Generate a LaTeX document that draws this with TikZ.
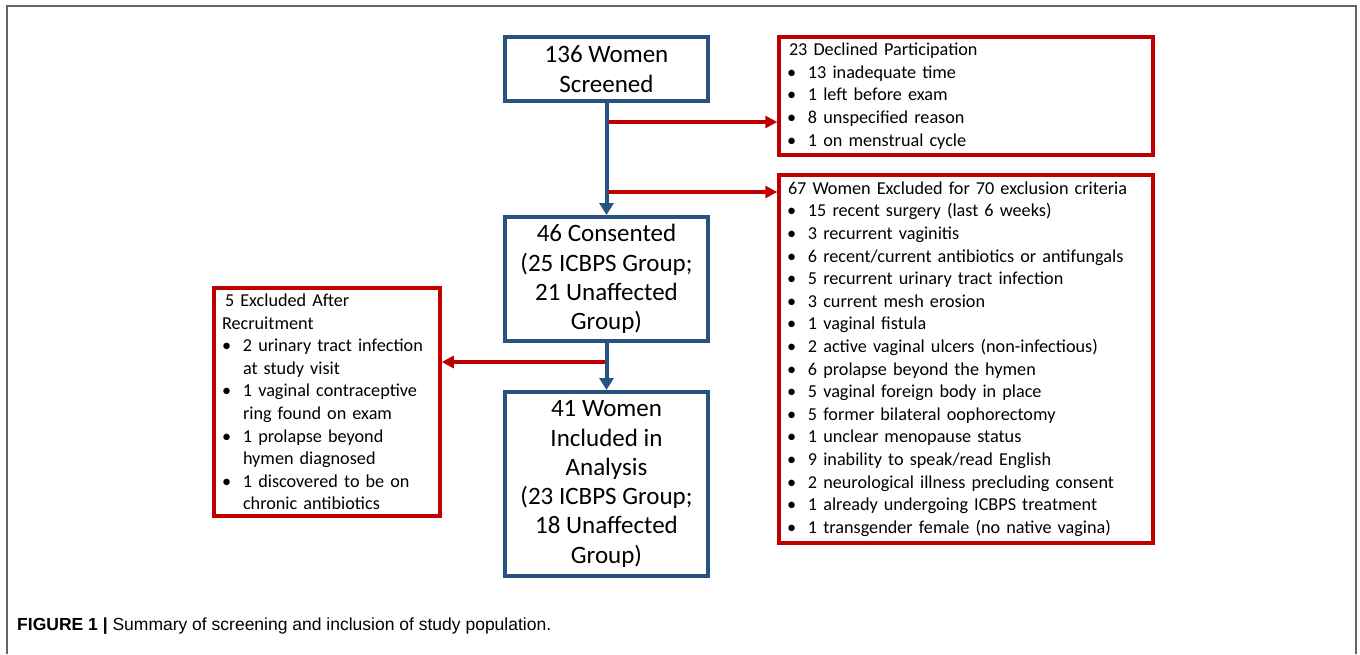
\documentclass[tikz,border=0pt]{standalone}
\usepackage{fontspec}
\setmainfont{Carlito}
\newfontfamily\capfont{Liberation Sans}
\usepackage{tikz}
\tikzset{>=latex}
\usetikzlibrary{shapes,arrows,arrows.meta}
\usetikzlibrary{calc}
\definecolor{boxblue}{RGB}{40,82,128}
\definecolor{boxred}{RGB}{192,0,0}
\definecolor{framegray}{RGB}{100,100,100}
\newcommand{\bitem}[1]{\makebox[21pt][l]{\textbullet}#1}
\newcommand{\bcont}[1]{\hspace*{21pt}#1}

\begin{document}
\begin{tikzpicture}[x=1pt,y=-1pt,line join=miter,
	bluebox/.style={draw=boxblue,line width=4pt,fill=white,align=center,inner sep=0pt,
		font=\fontsize{25}{29.3}\selectfont},
	redbox/.style={draw=boxred,line width=3.5pt,fill=white,align=left,inner xsep=8pt,inner ysep=0pt,
		font=\fontsize{18.2}{22.6}\selectfont},
	bluearrow/.style={-{Triangle[length=12pt,width=14pt]},draw=boxblue,line width=4pt},
	redarrow/.style={-{Triangle[length=12pt,width=12pt]},draw=boxred,line width=3.5pt}]
		\useasboundingbox (0,0) rectangle (1360,654);
		\fill[white] (0,0) rectangle (1360,654);
		\draw[framegray,line width=2pt] (7,654) -- (7,6) -- (1356,6) -- (1356,654);
		% main column
		\node[bluebox,minimum width=203pt,minimum height=64pt] (scr) at (606.5,69) {136 Women\\Screened};
		\node[bluebox,minimum width=203pt,minimum height=124pt] (cons) at (606.5,279) {46 Consented\\(25 ICBPS Group;\\21 Unaffected\\Group)};
		\node[bluebox,minimum width=203pt,minimum height=184pt] (incl) at (606.5,484) {41 Women\\Included in\\Analysis\\(23 ICBPS Group;\\18 Unaffected\\Group)};
		% side boxes
		\node[redbox,text width=358pt,minimum height=118pt] (dec) at (966,96) {\hspace*{2pt}23 Declined Participation\\
			\bitem{13 inadequate time}\\
			\bitem{1 left before exam}\\
			\bitem{8 unspecified reason}\\
			\bitem{1 on menstrual cycle}};
		\node[redbox,text width=358pt,minimum height=368pt] (excl) at (966,359) {\hspace*{1pt}67 Women Excluded for 70 exclusion criteria\\
			\bitem{15 recent surgery (last 6 weeks)}\\
			\bitem{3 recurrent vaginitis}\\
			\bitem{6 recent/current antibiotics or antifungals}\\
			\bitem{5 recurrent urinary tract infection}\\
			\bitem{3 current mesh erosion}\\
			\bitem{1 vaginal fistula}\\
			\bitem{2 active vaginal ulcers (non-infectious)}\\
			\bitem{6 prolapse beyond the hymen}\\
			\bitem{5 vaginal foreign body in place}\\
			\bitem{5 former bilateral oophorectomy}\\
			\bitem{1 unclear menopause status}\\
			\bitem{9 inability to speak/read English}\\
			\bitem{2 neurological illness precluding consent}\\
			\bitem{1 already undergoing ICBPS treatment}\\
			\bitem{1 transgender female (no native vagina)}};
		\node[redbox,text width=210pt,minimum height=228pt] (rec) at (327,402) {\hspace*{3pt}5 Excluded After\\
			Recruitment\\
			\bitem{2 urinary tract infection}\\
			\bcont{at study visit}\\
			\bitem{1 vaginal contraceptive}\\
			\bcont{ring found on exam}\\
			\bitem{1 prolapse beyond}\\
			\bcont{hymen diagnosed}\\
			\bitem{1 discovered to be on}\\
			\bcont{chronic antibiotics}};
		% connectors
		\coordinate (b1) at (606.5,122);
		\coordinate (b2) at (606.5,192);
		\coordinate (b3) at (606.5,362);
		\draw[redarrow] (b1) -- (b1 -| dec.west);
		\draw[redarrow] (b2) -- (b2 -| excl.west);
		\draw[redarrow] (b3) -- (b3 -| rec.east);
		\draw[bluearrow] (scr) -- (cons);
		\draw[bluearrow] (cons) -- (incl);
		% caption
		\node[anchor=west,inner sep=0pt,font=\capfont\fontsize{17.5}{20}\selectfont] (cap) at (17,626) {\textbf{FIGURE 1 |} Summary of screening and inclusion of study population.};
		\end{tikzpicture}
\end{document}
